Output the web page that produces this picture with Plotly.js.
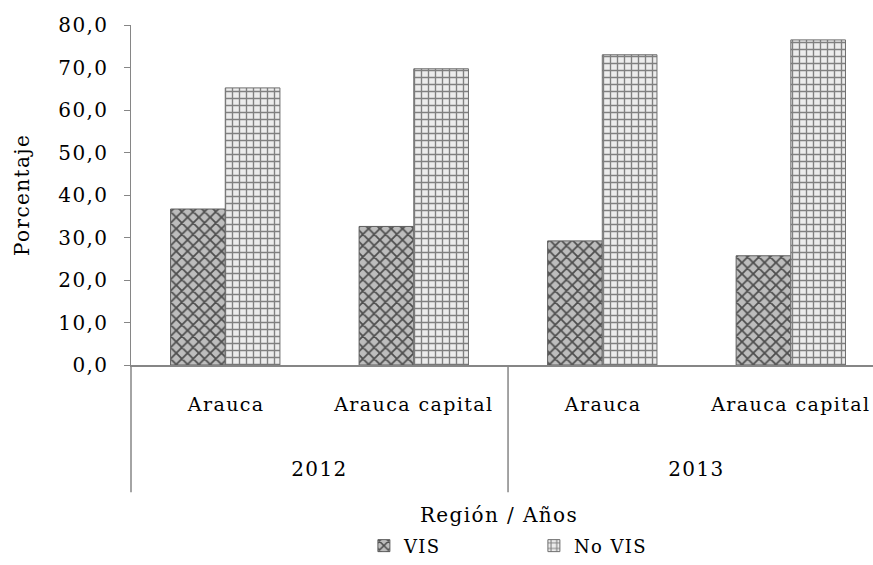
<!DOCTYPE html>
<html>
<head>
<meta charset="utf-8">
<script src="https://cdn.plot.ly/plotly-3.0.1.min.js"></script>
<style>
html,body{margin:0;padding:0;background:#fff;}
#chart{width:873px;height:565px;}
#chart svg text{letter-spacing:1.4px;}
</style>
</head>
<body>
<div id="chart"></div>
<script>
const years = ["2012", "2012", "2013", "2013"];
const regions = ["Arauca", "Arauca capital", "Arauca", "Arauca capital"];
const visValues = [36.7, 32.6, 29.2, 25.7];
const noVisValues = [65.2, 69.7, 73.0, 76.5];
const yTicks = [0, 10, 20, 30, 40, 50, 60, 70, 80];
const seriesNames = ["VIS", "No VIS"];
const yTitle = "Porcentaje";
const xTitle = "Región / Años";

const FONT = "DejaVu Serif, serif";
const idx = regions.map((_, i) => i);
const xr = [-0.5, 3.436];
const toPaper = v => (v - xr[0]) / (xr[1] - xr[0]);

const traces = [
  {
    type: "bar", name: seriesNames[0], x: idx, y: visValues,
    marker: {color: "#8c8c8c", line: {color: "#5e5e5e", width: 1},
      pattern: {shape: "x", fgcolor: "#4e4e4e", bgcolor: "#bdbdbd", size: 8, solidity: 0.4}}
  },
  {
    type: "bar", name: seriesNames[1], x: idx, y: noVisValues,
    marker: {color: "#cfcfcf", line: {color: "#6e6e6e", width: 1},
      pattern: {shape: "+", fgcolor: "#808080", bgcolor: "#ececec", size: 7, solidity: 0.35}}
  }
];

const annotations = [];
regions.forEach((r, i) => {
  annotations.push({x: i, xref: "x", y: 0, yref: "paper", yshift: -39, yanchor: "middle",
    text: r, showarrow: false, font: {family: FONT, size: 19, color: "#000"}});
});
const uniqYears = [...new Set(years)];
uniqYears.forEach(yv => {
  const ids = idx.filter(i => years[i] === yv);
  const c = (ids[0] + ids[ids.length - 1]) / 2;
  annotations.push({x: c, xref: "x", y: 0, yref: "paper", yshift: -104, yanchor: "middle",
    text: yv, showarrow: false, font: {family: FONT, size: 20, color: "#000"}});
});
annotations.push({x: (499 - 131) / 742, xref: "paper", y: 0, yref: "paper", yshift: -150, yanchor: "middle",
  text: xTitle, showarrow: false, font: {family: FONT, size: 20, color: "#000"}});
annotations.push({x: 0, xref: "paper", xshift: -109, y: 0.5, yref: "paper", yanchor: "middle", xanchor: "center",
  textangle: -90, text: yTitle, showarrow: false, font: {family: FONT, size: 20, color: "#000"}});

const lineBottom = -128 / 342;
const shapes = [];
[-0.5, 1.5].forEach(b => {
  shapes.push({type: "line", xref: "paper", yref: "paper", x0: toPaper(b), x1: toPaper(b),
    y0: 0, y1: lineBottom, line: {color: "#868686", width: 1.5}});
});

const layout = {
  width: 873, height: 565,
  margin: {l: 131, r: 0, t: 25, b: 198},
  paper_bgcolor: "#fff", plot_bgcolor: "#fff",
  separators: ",.",
  barmode: "group", bargap: 0.42, bargroupgap: 0,
  showlegend: true,
  legend: {orientation: "h", x: 0.543, xanchor: "center", y: -182 / 342, yanchor: "middle", yref: "paper",
    font: {family: FONT, size: 18, color: "#000"}, entrywidth: 125, itemwidth: 30},
  xaxis: {range: xr, showticklabels: false, showgrid: false, zeroline: false,
    showline: true, linecolor: "#868686", linewidth: 1.5, ticks: "", fixedrange: true},
  yaxis: {range: [0, 80], tickvals: yTicks, tickformat: ".1f", showgrid: false, zeroline: false,
    showline: true, linecolor: "#868686", linewidth: 1.5, ticks: "outside", ticklen: 6,
    tickcolor: "#868686", ticklabelstandoff: 11, tickfont: {family: FONT, size: 20, color: "#000"}},
  annotations: annotations,
  shapes: shapes
};

Plotly.newPlot("chart", traces, layout, {displayModeBar: false, staticPlot: true});
</script>
</body>
</html>
